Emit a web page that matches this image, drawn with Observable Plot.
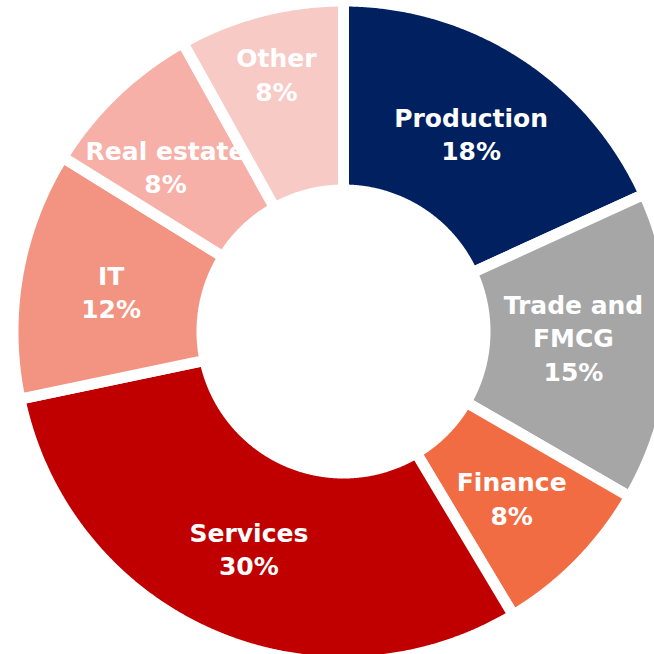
<!DOCTYPE html>
<html>
<head>
<meta charset="utf-8">
<script src="https://cdn.jsdelivr.net/npm/d3@7"></script>
<script src="https://cdn.jsdelivr.net/npm/@observablehq/plot@0.6"></script>
<style>
  html, body { margin: 0; padding: 0; background: #fff; }
  #chart { width: 654px; height: 654px; overflow: hidden; }
</style>
</head>
<body>
<div id="chart"></div>
<script>
const categories = ["Production", "Trade and FMCG", "Finance", "Services", "IT", "Real estate", "Other"];
const shares = [18, 15, 8, 30, 12, 8, 8];
const labelNames = ["Production", "Trade and\nFMCG", "Finance", "Services", "IT", "Real estate", "Other"];
const sliceColors = ["#002060", "#A6A6A6", "#F26C43", "#C00000", "#F39381", "#F7B0A7", "#F8CAC5"];

// geometry (in scale units = pixels)
const outerR = 325, innerR = 147, gap = 11;
const labelExtra = {"Other": 31, "Real estate": 7, "Trade and FMCG": -6};
const labelTurn = {"Real estate": -0.06, "Trade and FMCG": -0.025};

const arcs = d3.pie().sort(null).value(d => d)(shares);
const polys = [];
arcs.forEach((a, i) => {
  const ro = outerR + gap / 2, ri = innerR - gap / 2;
  const n = Math.max(8, Math.ceil((a.endAngle - a.startAngle) / 0.005));
  for (let k = 0; k <= n; k++) {
    const t = a.startAngle + (a.endAngle - a.startAngle) * k / n;
    polys.push({name: categories[i], x: ro * Math.sin(t), y: ro * Math.cos(t)});
  }
  for (let k = n; k >= 0; k--) {
    const t = a.startAngle + (a.endAngle - a.startAngle) * k / n;
    polys.push({name: categories[i], x: ri * Math.sin(t), y: ri * Math.cos(t)});
  }
});

const labels = arcs.map((a, i) => {
  const m = (a.startAngle + a.endAngle) / 2 + (labelTurn[categories[i]] || 0);
  const r = (outerR + innerR) / 2 + (labelExtra[categories[i]] || 0);
  return {name: categories[i], text: labelNames[i] + "\n" + shares[i] + "%", x: r * Math.sin(m), y: r * Math.cos(m)};
});

const cx = 343, cy = 331, W = 654, H = 654;
const chart = Plot.plot({
  width: W, height: H,
  margin: 0,
  x: {domain: [-cx, W - cx], axis: null},
  y: {domain: [-(H - cy), cy], axis: null},
  color: {domain: categories, range: sliceColors},
  marks: [
    Plot.line(polys, {x: "x", y: "y", z: "name", fill: "name", stroke: "white", strokeWidth: gap, curve: "linear-closed", strokeLinejoin: "round"}),
    Plot.text(labels, {x: "x", y: "y", text: "text", fill: "white", fontSize: 25, fontWeight: "bold", lineHeight: 1.34, fontFamily: "DejaVu Sans"})
  ],
  style: {background: "white", fontFamily: "DejaVu Sans"}
});
document.getElementById("chart").appendChild(chart);
</script>
</body>
</html>
